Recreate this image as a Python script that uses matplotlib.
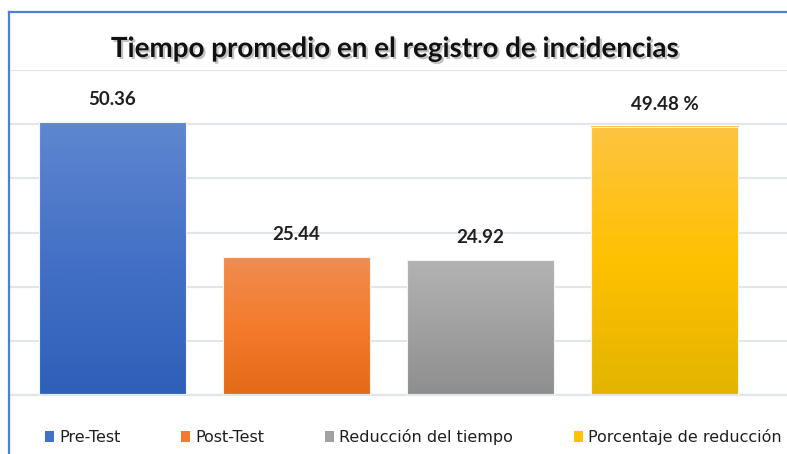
import numpy as np
import matplotlib.pyplot as plt
import matplotlib.patheffects as pe
from matplotlib.colors import LinearSegmentedColormap
from matplotlib.lines import Line2D
from matplotlib.patches import Patch

plt.rcParams['font.family'] = ['Lato', 'DejaVu Sans']

series = ['Pre-Test', 'Post-Test', 'Reducción del tiempo', 'Porcentaje de reducción']
values = [50.36, 25.44, 24.92, 49.48]
labels = ['50.36', '25.44', '24.92', '49.48 %']
top_colors = ['#5f87d0', '#f08c52', '#b2b2b2', '#fdc441']
mid_colors = ['#4471c6', '#f47b2c', '#a1a1a1', '#ffc100']
bot_colors = ['#2e60b9', '#e26a18', '#8e8e8e', '#e2b400']

W, H = 787, 454
fig = plt.figure(figsize=(W / 100, H / 100), dpi=100)
fig.patch.set_facecolor('white')

# plot area runs past the right edge of the figure
left, right, bottom, top = 10, 800, 395, 70
ax = fig.add_axes([left / W, (H - bottom) / H, (right - left) / W, (bottom - top) / H])

x = np.arange(len(values))
width = 0.8
grad = np.linspace(0, 1, 256).reshape(-1, 1)
for i, v in enumerate(values):
    cmap = LinearSegmentedColormap.from_list('g%d' % i, [bot_colors[i], mid_colors[i], top_colors[i]])
    ax.imshow(grad, extent=[x[i] - width / 2, x[i] + width / 2, 0, v], origin='lower',
              aspect='auto', cmap=cmap, zorder=2)
    ax.bar(x[i], v, width, facecolor='none', edgecolor='#f4f4f4', linewidth=0.8, zorder=3)
    ax.annotate(labels[i], (x[i], v), xytext=(0, 10), textcoords='offset points',
                ha='center', va='bottom', fontsize=13.5, fontweight='bold', color='#1f1f1f')

x0 = (left - 112.5) / 184
x1 = (right - 112.5) / 184
ax.set_xlim(x0, x1)
ax.set_ylim(0, 60)
ax.set_yticks(np.arange(0, 61, 10))
ax.grid(axis='y', color='#e2e5ea', linewidth=1.6, zorder=0)
ax.set_axisbelow(True)
ax.tick_params(left=False, bottom=False, labelleft=False, labelbottom=False)
for s in ['left', 'right', 'top']:
    ax.spines[s].set_visible(False)
ax.spines['bottom'].set_color('#e2e5ea')
ax.spines['bottom'].set_linewidth(1.6)

title = fig.text(395 / W, 1 - 49 / H, 'Tiempo promedio en el registro de incidencias',
                 ha='center', va='center', fontsize=20, fontweight='bold', color='#111111')
title.set_path_effects([pe.SimplePatchShadow(offset=(1.5, -1.5), shadow_rgbFace='#777777', alpha=0.45),
                        pe.Normal()])

handles = [Patch(facecolor=mid_colors[i], edgecolor='none') for i in range(len(series))]
fig.legend(handles, series, loc='center left', bbox_to_anchor=(45 / W, 1 - 437 / H), ncol=4,
           frameon=False, handlelength=0.58, handleheight=0.7, handletextpad=0.3,
           columnspacing=3.8, borderaxespad=0, borderpad=0,
           prop={'family': ['Liberation Sans Narrow', 'DejaVu Sans'], 'size': 11.5},
           labelcolor='#1f1f1f')

# outer chart frame (left and top edges)
frame_col = '#4f80d6'
fig.add_artist(Line2D([8.5 / W, 8.5 / W], [0, 1 - 11.5 / H], color=frame_col, linewidth=1.6))
fig.add_artist(Line2D([8.5 / W, 1], [1 - 11.5 / H, 1 - 11.5 / H], color=frame_col, linewidth=1.6))

fig.savefig('out.png', dpi=100)
